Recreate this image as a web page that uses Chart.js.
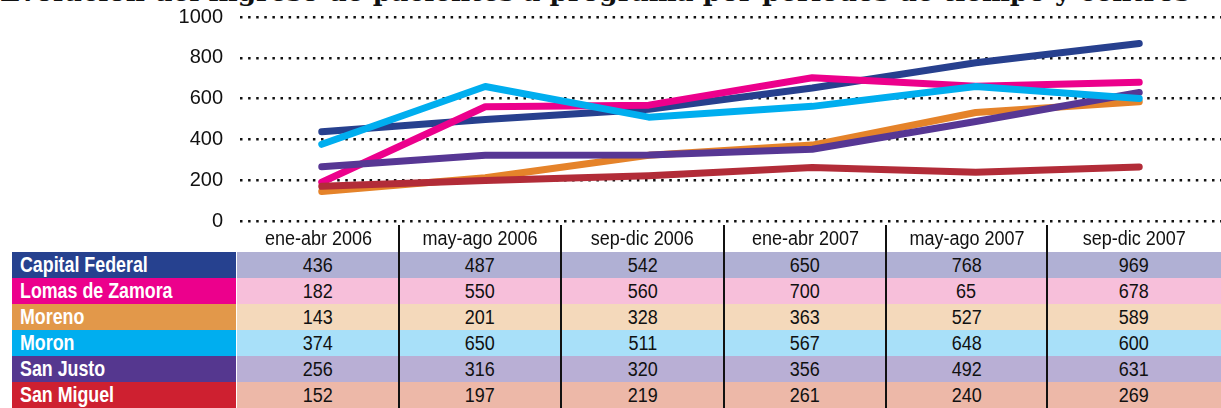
<!DOCTYPE html>
<html lang="es">
<head>
<meta charset="utf-8">
<title>Evolución del ingreso de pacientes</title>
<script src="https://cdn.jsdelivr.net/npm/chart.js@4.4.1/dist/chart.umd.min.js"></script>
<style>
  html, body { margin: 0; padding: 0; background: #fff; overflow: hidden; }
  body { width: 1221px; height: 408px; position: relative; }
  #titulo {
    position: absolute; left: 0; top: -21px; white-space: nowrap;
    font-family: "DejaVu Serif", serif; font-weight: bold; font-size: 26px; line-height: 26px;
    color: #111; transform-origin: 0 0;
  }
  #grafico { position: absolute; left: 0; top: 0; }
  .celda {
    position: absolute; box-sizing: border-box; text-align: center; overflow: hidden;
    font-family: "Liberation Sans", Arial, sans-serif;
    font-size: 20px; color: #111;
  }
  .celda span { display: inline-block; transform: scaleX(0.9); }
  .etiqueta { text-align: left; padding-left: 8px; color: #fff; font-weight: bold; font-size: 22px; }
  .etiqueta span { transform: scaleX(0.81); transform-origin: 0 50%; }
  .divisor { position: absolute; width: 1.5px; background: #111; }
</style>
</head>
<body>
<div id="titulo">Evolución del ingreso de pacientes a programa por periodos de tiempo y centros</div>
<canvas id="grafico" width="1221" height="262"></canvas>
<div id="tabla"></div>
<script>
const categorias = ["ene-abr 2006", "may-ago 2006", "sep-dic 2006", "ene-abr 2007", "may-ago 2007", "sep-dic 2007"];
const centros = ["Capital Federal", "Lomas de Zamora", "Moreno", "Moron", "San Justo", "San Miguel"];
const ticksY = [0, 200, 400, 600, 800, 1000];

// valores tal como se ven en las líneas
const capitalFederal = [438, 498, 548, 652, 776, 870];
const lomasDeZamora = [190, 560, 568, 702, 660, 680];
const moreno = [145, 212, 322, 372, 532, 585];
const moron = [376, 659, 509, 562, 659, 601];
const sanJusto = [266, 322, 324, 352, 488, 630];
const sanMiguel = [170, 198, 222, 262, 239, 265];

// valores impresos en la tabla
const tablaCapitalFederal = [436, 487, 542, 650, 768, 969];
const tablaLomasDeZamora = [182, 550, 560, 700, 65, 678];
const tablaMoreno = [143, 201, 328, 363, 527, 589];
const tablaMoron = [374, 650, 511, 567, 648, 600];
const tablaSanJusto = [256, 316, 320, 356, 492, 631];
const tablaSanMiguel = [152, 197, 219, 261, 240, 269];

const coloresLinea = ["#27408e", "#ec008c", "#e5832a", "#00aeef", "#573794", "#b22c38"];
const coloresEtiqueta = ["#26418f", "#ec008c", "#e2984a", "#00aeef", "#55378f", "#ce2030"];
const coloresFila = ["#b0b0d4", "#f7bfda", "#f4d9bb", "#a8e0f9", "#b9afd5", "#edb8a8"];
const ordenDibujo = [4, 3, 5, 1, 2, 0];

const series = [capitalFederal, lomasDeZamora, moreno, moron, sanJusto, sanMiguel];
const tabla = [tablaCapitalFederal, tablaLomasDeZamora, tablaMoreno, tablaMoron, tablaSanJusto, tablaSanMiguel];

// área de trazado buscada en la página (px)
const AREA_ARRIBA = 16.5, AREA_ABAJO = 220.7;
const canvas = document.getElementById("grafico");

function crearGrafico() {
  return new Chart(canvas, {
    type: "line",
    data: {
      labels: categorias,
      datasets: centros.map((nombre, i) => ({
        label: nombre,
        data: series[i],
        borderColor: coloresLinea[i],
        backgroundColor: coloresLinea[i],
        borderWidth: 7,
        borderCapStyle: "round",
        borderJoinStyle: "round",
        pointRadius: 0,
        tension: 0,
        order: ordenDibujo[i]
      }))
    },
    options: {
      responsive: false,
      animation: false,
      layout: { padding: 0 },
      plugins: { legend: { display: false }, tooltip: { enabled: false } },
      scales: {
        x: { display: false, offset: true },
        y: {
          min: 0, max: 1000,
          afterBuildTicks: axis => { axis.ticks = ticksY.map(v => ({ value: v })); },
          afterFit: axis => { axis.width = 240; },
          ticks: {
            color: "#111", padding: 17,
            font: { family: '"Liberation Sans", Arial, sans-serif', size: 20 },
            callback: v => String(v)
          },
          grid: { color: "#111", lineWidth: 2.5, drawTicks: false },
          border: { display: false, dash: [2.5, 5.6] }
        }
      }
    }
  });
}

// el relleno de las etiquetas fija el margen; se ajusta el alto del lienzo y su posición
let chart = crearGrafico();
const alto = chart.chartArea.bottom - chart.chartArea.top;
const deseado = AREA_ABAJO - AREA_ARRIBA;
if (Math.abs(alto - deseado) > 0.5) {
  chart.destroy();
  canvas.height = Math.round(canvas.height + deseado - alto);
  chart = crearGrafico();
}
canvas.style.top = (AREA_ARRIBA - chart.chartArea.top) + "px";

// tabla inferior
const tablaEl = document.getElementById("tabla");
const bordes = [237, 399, 561, 724, 886, 1047, 1221];

function celda(x, y, w, h, texto, fondo, clase) {
  const d = document.createElement("div");
  d.className = "celda" + (clase ? " " + clase : "");
  Object.assign(d.style, { left: x + "px", top: y + "px", width: w + "px", height: h + "px", lineHeight: h + "px" });
  if (fondo) d.style.background = fondo;
  const s = document.createElement("span");
  s.textContent = texto;
  d.appendChild(s);
  tablaEl.appendChild(d);
}

categorias.forEach((c, j) => celda(bordes[j], 225, bordes[j + 1] - bordes[j], 27, c));

centros.forEach((nombre, i) => {
  const y = 252 + i * 26;
  celda(12, y, 224, 26, nombre, coloresEtiqueta[i], "etiqueta");
  tabla[i].forEach((v, j) => celda(bordes[j], y, bordes[j + 1] - bordes[j], 26, String(v), coloresFila[i]));
});

bordes.slice(1, -1).forEach(x => {
  const d = document.createElement("div");
  d.className = "divisor";
  Object.assign(d.style, { left: (x - 0.75) + "px", top: "225px", height: "183px" });
  tablaEl.appendChild(d);
});

// ajustar el ancho del título
const titulo = document.getElementById("titulo");
titulo.style.transform = "scaleX(" + (1190 / titulo.scrollWidth) + ")";
</script>
</body>
</html>
